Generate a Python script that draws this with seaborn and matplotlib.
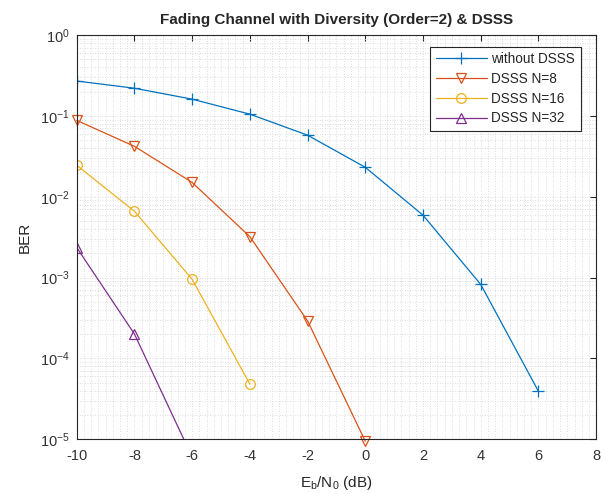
import numpy as np
import pandas as pd
import matplotlib
matplotlib.use("Agg")
import matplotlib.pyplot as plt
import seaborn as sns
from matplotlib.ticker import LogLocator, MultipleLocator, NullFormatter

# ---- data ----
ebn0_blue = [-10, -8, -6, -4, -2, 0, 2, 4, 6]
ber_no_dsss = [0.27, 0.22, 0.161, 0.105, 0.0577, 0.0231, 0.0059, 8.2e-4, 3.9e-5]

ebn0_n8 = [-10, -8, -6, -4, -2, 0]
ber_n8 = [0.088, 0.042, 0.015, 0.0032, 2.9e-4, 9.4e-6]

ebn0_n16 = [-10, -8, -6, -4]
ber_n16 = [0.0245, 0.0066, 9.5e-4, 4.8e-5]

ebn0_n32 = [-10, -8, -6]
ber_n32 = [2.35e-3, 2.0e-4, 6.0e-6]

labels = ["without DSSS", "DSSS N=8", "DSSS N=16", "DSSS N=32"]
colors = ["#0072BD", "#D95319", "#EDB120", "#7E2F8E"]
markers = ["+", "v", "o", "^"]

title = "Fading Channel with Diversity (Order=2) & DSSS"
xlabel = r"E$_\mathregular{b}$/N$_\mathregular{0}$ (dB)"
ylabel = "BER"
xticks = [-10, -8, -6, -4, -2, 0, 2, 4, 6, 8]

# ---- style ----
sns.set_style("white")
plt.rcParams["font.family"] = ["Liberation Sans", "DejaVu Sans"]
plt.rcParams["axes.unicode_minus"] = False
plt.rcParams["mathtext.default"] = "regular"

fig = plt.figure(figsize=(6.09, 4.94), dpi=100)
ax = fig.add_axes([0.126, 0.111, 0.853, 0.818])

series = [
    (ebn0_blue, ber_no_dsss),
    (ebn0_n8, ber_n8),
    (ebn0_n16, ber_n16),
    (ebn0_n32, ber_n32),
]
for i, ((xs, ys), lab, col, mk) in enumerate(zip(series, labels, colors, markers)):
    df = pd.DataFrame({"x": xs, "y": ys})
    sns.lineplot(data=df, x="x", y="y", ax=ax, color=col, label=lab, sort=False,
                 marker=mk, markersize=7 if mk != "+" else 8,
                 markerfacecolor="none", markeredgecolor=col,
                 markeredgewidth=0.9, linewidth=0.9)
    if i == 1:
        ax.lines[-1].set_clip_on(False)

ax.set_yscale("log")
ax.set_xlim(-10, 8)
ax.set_ylim(1e-5, 1)
ax.set_xticks(xticks)
ax.xaxis.set_minor_locator(MultipleLocator(0.25))
ax.yaxis.set_major_locator(LogLocator(base=10, numticks=10))
ax.yaxis.set_minor_locator(LogLocator(base=10, subs=np.arange(2, 10), numticks=100))
ax.yaxis.set_minor_formatter(NullFormatter())

ax.grid(True, which="both", color="#d2d2d2", linestyle=(0, (1, 2)), linewidth=0.6)
ax.set_axisbelow(True)

ax.tick_params(which="major", direction="in", length=4, width=0.8,
               top=True, right=True, labelsize=10.5, colors="#262626",
               labelcolor="#333333")
ax.tick_params(axis="x", which="major", pad=7)
ax.tick_params(axis="y", which="major", pad=5)
ax.tick_params(which="minor", length=0, top=True, right=True)
for sp in ax.spines.values():
    sp.set_color("#262626")
    sp.set_linewidth(0.8)

ax.set_title(title, fontsize=11, fontweight="bold", pad=8)
ax.set_xlabel(xlabel, fontsize=11, labelpad=8)
ax.set_ylabel(ylabel, fontsize=11, labelpad=6)

leg = ax.legend(loc="upper right", bbox_to_anchor=(0.983, 0.988), fontsize=9.8,
                handlelength=3.8, labelspacing=0.42, borderpad=0.4,
                handletextpad=0.3, frameon=True, fancybox=False)
leg.get_frame().set_edgecolor("#262626")
leg.get_frame().set_linewidth(0.8)
leg.get_frame().set_alpha(1)

fig.savefig("out.png", dpi=100)
